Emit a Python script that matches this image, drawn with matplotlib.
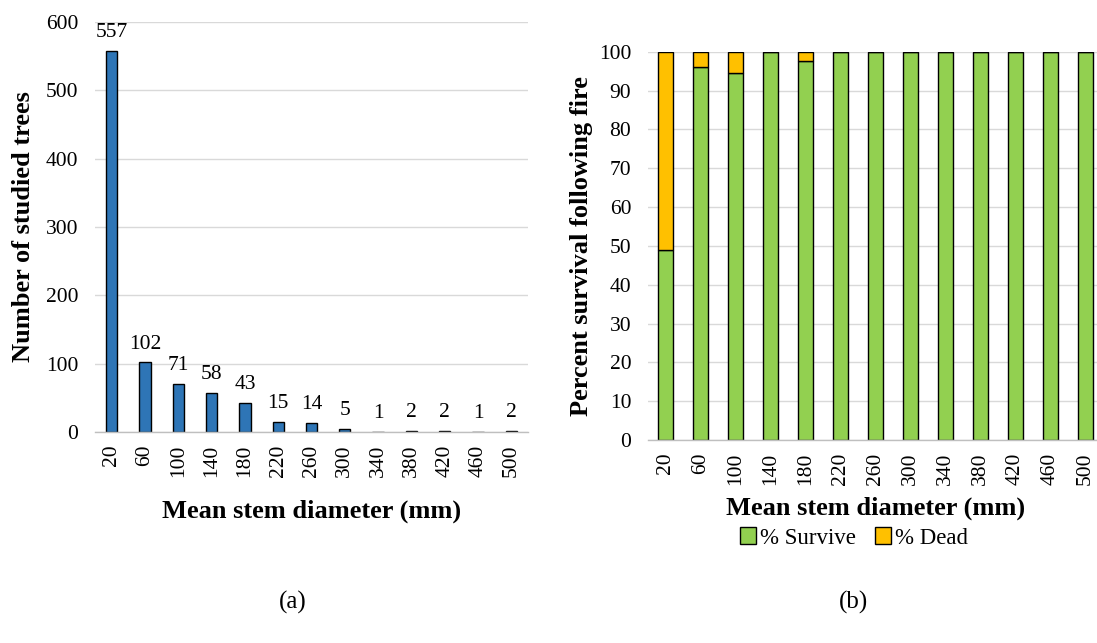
#!/usr/bin/env python
"""
Stem diameter vs. tree count (a) and survival following fire (b)
"""
import matplotlib
matplotlib.use('Agg')
import matplotlib.pyplot as plt
from matplotlib.patches import Patch

# data
diameters = ['20', '60', '100', '140', '180', '220', '260', '300', '340', '380', '420', '460', '500']
tree_counts = [557, 102, 71, 58, 43, 15, 14, 5, 1, 2, 2, 1, 2]
pct_survive = [49, 96, 94.4, 100, 97.7, 100, 100, 100, 100, 100, 100, 100, 100]
pct_dead = [100 - s for s in pct_survive]

plt.rcParams['font.family'] = ['Liberation Serif', 'DejaVu Serif']

W, H = 1097, 643
fig = plt.figure(figsize=(W / 100, H / 100), dpi=100)

TICK_FS = 15.5
LABEL_FS = 19


def px_axes(x0, x1, y_top, y_bot):
    return fig.add_axes([x0 / W, 1 - y_bot / H, (x1 - x0) / W, (y_bot - y_top) / H])


def style(ax):
    for s in ['top', 'right', 'left']:
        ax.spines[s].set_visible(False)
    ax.spines['bottom'].set_color('#bfbfbf')
    ax.spines['bottom'].set_linewidth(1.0)
    ax.grid(axis='y', color='#d9d9d9', linewidth=1.0)
    ax.set_axisbelow(True)
    ax.tick_params(axis='both', length=0, labelsize=TICK_FS)
    ax.tick_params(axis='y', pad=12)
    ax.tick_params(axis='x', rotation=90, pad=9)


x = range(len(diameters))

# (a) number of trees
ax1 = px_axes(95, 528, 21.7, 432.3)
ax1.bar(x, tree_counts, width=0.34, color='#2E75B6', edgecolor='black', linewidth=1.0)
for i, c in enumerate(tree_counts):
    ax1.text(i, c + 13, str(c), ha='center', va='bottom', fontsize=TICK_FS)
ax1.set_xlim(-0.5, 12.5)
ax1.set_ylim(0, 600)
ax1.set_yticks(range(0, 601, 100))
ax1.set_xticks(list(x))
ax1.set_xticklabels(diameters)
style(ax1)
ax1.set_ylabel('Number of studied trees', fontsize=LABEL_FS, fontweight='bold', labelpad=8)
ax1.set_xlabel('Mean stem diameter (mm)', fontsize=LABEL_FS, fontweight='bold', labelpad=16)

# (b) survival
ax2 = px_axes(648, 1103, 51.7, 440)
ax2.bar(x, pct_survive, width=0.43, color='#92D050', edgecolor='black', linewidth=1.0)
ax2.bar(x, pct_dead, bottom=pct_survive, width=0.43, color='#FFC000', edgecolor='black', linewidth=1.0)
ax2.set_xlim(-0.5, 12.5)
ax2.set_ylim(0, 100)
ax2.set_yticks(range(0, 101, 10))
ax2.set_xticks(list(x))
ax2.set_xticklabels(diameters)
style(ax2)
ax2.set_ylabel('Percent survival following fire', fontsize=LABEL_FS, fontweight='bold', labelpad=4)
ax2.set_xlabel('Mean stem diameter (mm)', fontsize=LABEL_FS, fontweight='bold', labelpad=8)

handles = [Patch(facecolor='#92D050', edgecolor='black', label='% Survive'),
           Patch(facecolor='#FFC000', edgecolor='black', label='% Dead')]
fig.legend(handles=handles, loc='center', bbox_to_anchor=(854 / W, 1 - 538 / H), ncol=2,
           frameon=False, fontsize=16.5, handlelength=0.7, handleheight=0.7,
           handletextpad=0.2, columnspacing=0.8)

fig.text(293 / W, 1 - 602 / H, '(a)', ha='center', va='center', fontsize=18)
fig.text(853 / W, 1 - 602 / H, '(b)', ha='center', va='center', fontsize=18)

fig.savefig('out.png', dpi=100, facecolor='white')
